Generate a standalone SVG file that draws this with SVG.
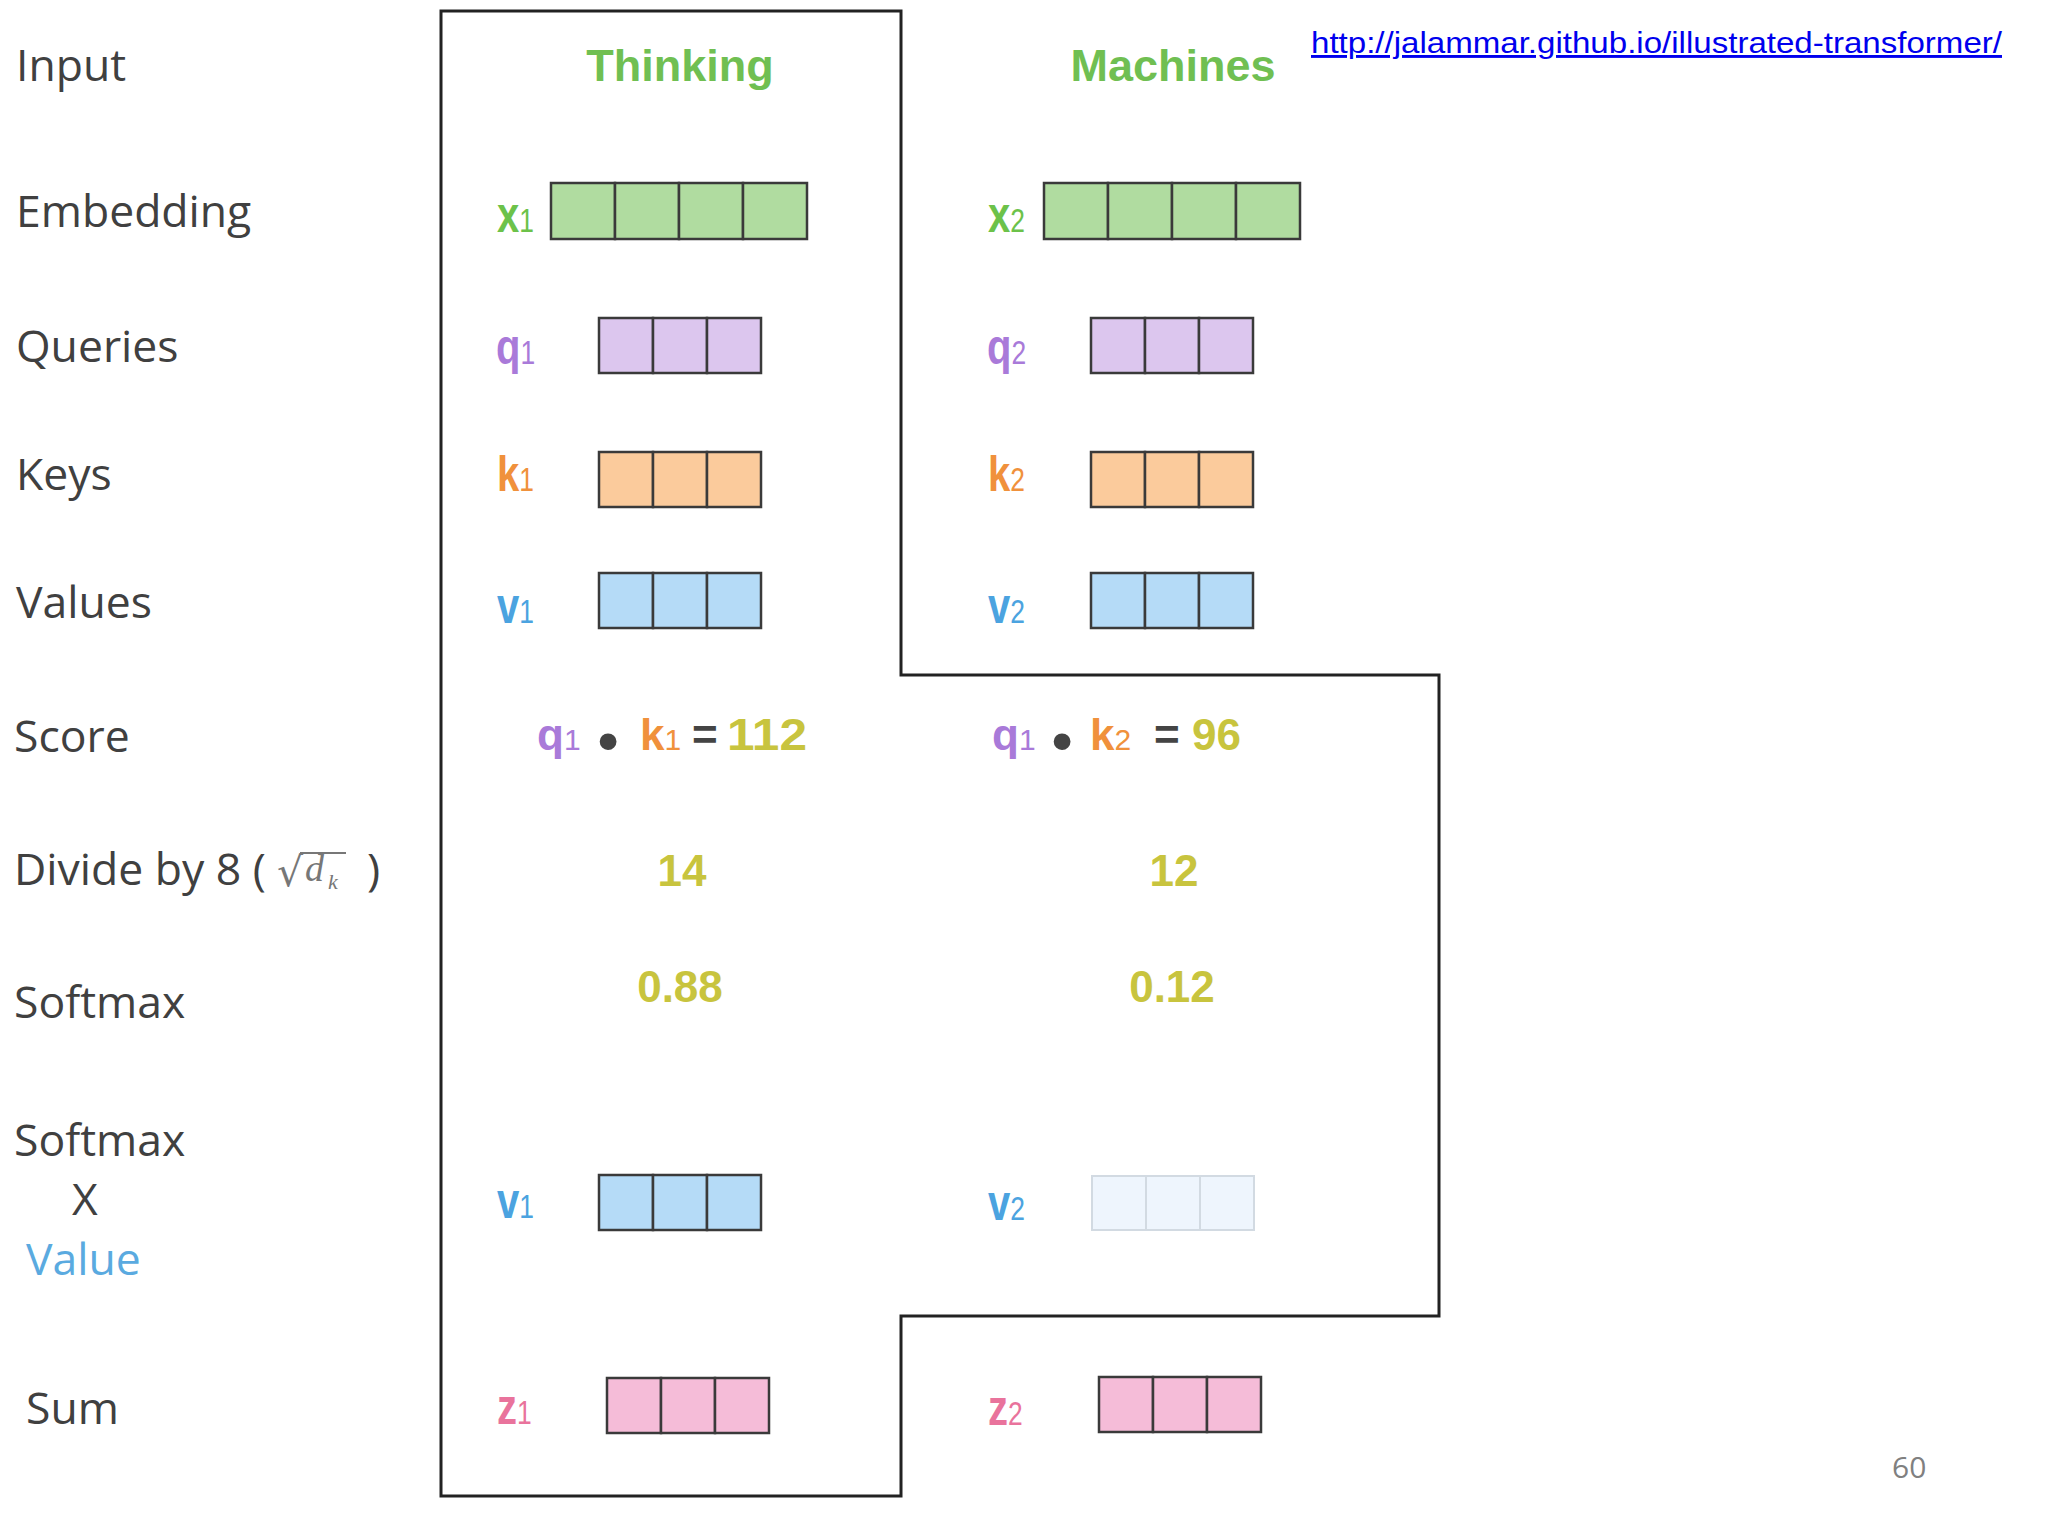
<svg xmlns="http://www.w3.org/2000/svg" xmlns:xlink="http://www.w3.org/1999/xlink" width="2048" height="1536" viewBox="0 0 2048 1536">
<style>
.lbl{font-family:"Open Sans","Liberation Sans",sans-serif;font-size:44.5px;fill:#404040}
.hdr{font-family:"Liberation Sans",Arial,sans-serif;font-weight:bold;font-size:45px;fill:#70bf52;text-anchor:middle}
.vl{font-family:"Liberation Sans",Arial,sans-serif;font-weight:bold;font-size:50px}
.sub{font-weight:normal;font-size:33px}
.sc{font-family:"Liberation Sans",Arial,sans-serif;font-weight:bold;font-size:44px}
.ssub{font-weight:normal;font-size:30px}
.dot{font-family:"Liberation Sans",Arial,sans-serif;font-size:62px;fill:#444;text-anchor:middle}
.num{font-family:"Liberation Sans",Arial,sans-serif;font-weight:bold;font-size:44px;fill:#c8c43e;text-anchor:middle}
.op{fill:#444}
.cell{stroke:#3a3a3a;stroke-width:2.5}
.fcell{stroke:#d2dae2;stroke-width:2}
.g{fill:#6cc24a}.p{fill:#a97ad9}.o{fill:#f0913c}.b{fill:#4ba3e0}.k{fill:#e9739c}
.math{fill:#777}
</style>
<defs>
<g id="c4"><rect class="cell" x="0" y="0" width="64" height="56"/><rect class="cell" x="64" y="0" width="64" height="56"/><rect class="cell" x="128" y="0" width="64" height="56"/><rect class="cell" x="192" y="0" width="64" height="56"/></g>
<g id="c3"><rect class="cell" x="0" y="0" width="54" height="55"/><rect class="cell" x="54" y="0" width="54" height="55"/><rect class="cell" x="108" y="0" width="54" height="55"/></g>
<g id="c3f"><rect class="fcell" x="0" y="0" width="54" height="54"/><rect class="fcell" x="54" y="0" width="54" height="54"/><rect class="fcell" x="108" y="0" width="54" height="54"/></g>
</defs>
<rect x="0" y="0" width="2048" height="1536" fill="#ffffff"/>

<g id="connectors">
<polygon id="outline" points="441,11 901,11 901,675 1439,675 1439,1316 901,1316 901,1496 441,1496" fill="none" stroke="#222" stroke-width="3"/>
</g>

<g id="row-labels">
<text class="lbl" x="16" y="81">Input</text>
<text class="lbl" x="16" y="227">Embedding</text>
<text class="lbl" x="16" y="362">Queries</text>
<text class="lbl" x="16" y="490">Keys</text>
<text class="lbl" x="16" y="618">Values</text>
<text class="lbl" x="14" y="752">Score</text>
<g id="divide-label">
<text class="lbl" x="14" y="885">Divide by 8 (</text>
<text class="math" x="277" y="886" font-family="DejaVu Serif" font-size="41">√</text>
<line x1="300" y1="853" x2="346" y2="853" stroke="#777" stroke-width="1.8"/>
<text class="math" x="305" y="881" font-family="Liberation Serif" font-style="italic" font-size="38">d</text>
<text class="math" x="328" y="889" font-family="Liberation Serif" font-style="italic" font-size="22">k</text>
<text class="lbl" x="367" y="885">)</text>
</g>
<text class="lbl" x="14" y="1018">Softmax</text>
<text class="lbl" x="14" y="1156">Softmax</text>
<text class="lbl" x="72" y="1215">X</text>
<text class="lbl" x="26" y="1275" style="fill:#5aaae0">Value</text>
<text class="lbl" x="26" y="1424">Sum</text>
</g>

<g id="headers">
<text class="hdr" x="680" y="81">Thinking</text>
<text class="hdr" x="1173" y="81">Machines</text>
</g>

<g id="x1"><text class="vl g" transform="translate(497,232) scale(0.8,1)">x<tspan class="sub">1</tspan></text><use href="#c4" x="551" y="183" fill="#b0dca0"/></g>
<g id="x2"><text class="vl g" transform="translate(988,232) scale(0.8,1)">x<tspan class="sub">2</tspan></text><use href="#c4" x="1044" y="183" fill="#b0dca0"/></g>
<g id="q1"><text class="vl p" transform="translate(496,364) scale(0.8,1)">q<tspan class="sub">1</tspan></text><use href="#c3" x="599" y="318" fill="#dcc6ee"/></g>
<g id="q2"><text class="vl p" transform="translate(987,364) scale(0.8,1)">q<tspan class="sub">2</tspan></text><use href="#c3" x="1091" y="318" fill="#dcc6ee"/></g>
<g id="k1"><text class="vl o" transform="translate(497,491) scale(0.8,1)">k<tspan class="sub">1</tspan></text><use href="#c3" x="599" y="452" fill="#fbcb9c"/></g>
<g id="k2"><text class="vl o" transform="translate(988,491) scale(0.8,1)">k<tspan class="sub">2</tspan></text><use href="#c3" x="1091" y="452" fill="#fbcb9c"/></g>
<g id="v1"><text class="vl b" transform="translate(497,623) scale(0.8,1)">v<tspan class="sub">1</tspan></text><use href="#c3" x="599" y="573" fill="#b5dbf7"/></g>
<g id="v2"><text class="vl b" transform="translate(988,623) scale(0.8,1)">v<tspan class="sub">2</tspan></text><use href="#c3" x="1091" y="573" fill="#b5dbf7"/></g>

<g id="score1">
<text class="sc p" x="537" y="750">q<tspan class="ssub">1</tspan></text>
<text class="dot" x="608" y="762">•</text>
<text class="sc o" x="640" y="750">k<tspan class="ssub">1</tspan></text>
<text class="sc op" x="692" y="750">=</text>
<text class="sc" x="727" y="750" style="fill:#c8c43e" textLength="80" lengthAdjust="spacingAndGlyphs">112</text>
</g>
<g id="score2">
<text class="sc p" x="992" y="750">q<tspan class="ssub">1</tspan></text>
<text class="dot" x="1062" y="762">•</text>
<text class="sc o" x="1090" y="750">k<tspan class="ssub">2</tspan></text>
<text class="sc op" x="1154" y="750">=</text>
<text class="sc" x="1192" y="750" style="fill:#c8c43e">96</text>
</g>

<g id="divide1"><text class="num" x="682" y="886">14</text></g>
<g id="divide2"><text class="num" x="1174" y="886">12</text></g>
<g id="softmax1"><text class="num" x="680" y="1002">0.88</text></g>
<g id="softmax2"><text class="num" x="1172" y="1002">0.12</text></g>

<g id="wv1"><text class="vl b" transform="translate(497,1218) scale(0.8,1)">v<tspan class="sub">1</tspan></text><use href="#c3" x="599" y="1175" fill="#b5dbf7"/></g>
<g id="wv2"><text class="vl b" transform="translate(988,1220) scale(0.8,1)">v<tspan class="sub">2</tspan></text><use href="#c3f" x="1092" y="1176" fill="#eef5fd"/></g>

<g id="z1"><text class="vl k" transform="translate(497,1424) scale(0.8,1)">z<tspan class="sub">1</tspan></text><use href="#c3" x="607" y="1378" fill="#f5bcd8"/></g>
<g id="z2"><text class="vl k" transform="translate(988,1425) scale(0.8,1)">z<tspan class="sub">2</tspan></text><use href="#c3" x="1099" y="1377" fill="#f5bcd8"/></g>

<g id="url"><text x="1311" y="53" font-family="Liberation Sans,sans-serif" font-size="29" fill="#0000ee" text-decoration="underline" textLength="691" lengthAdjust="spacingAndGlyphs">http://jalammar.github.io/illustrated-transformer/</text></g>
<g id="page"><text x="1892" y="1478" font-family="Open Sans,sans-serif" font-size="30" fill="#808080">60</text></g>
</svg>
